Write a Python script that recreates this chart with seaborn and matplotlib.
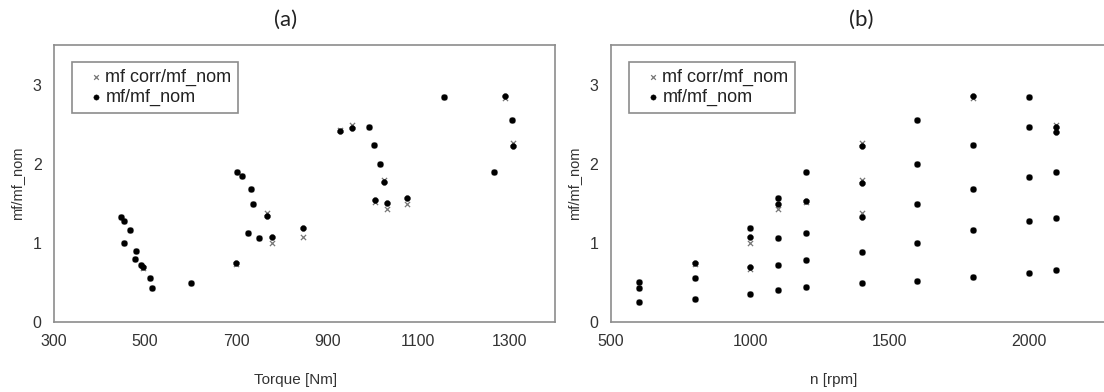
import matplotlib
matplotlib.use("Agg")
import matplotlib.pyplot as plt
import seaborn as sns
import pandas as pd

# ---- data: panel (a) ----
torque = [448, 454, 453, 467, 481, 478, 491, 496, 510, 516, 600, 699, 701, 712, 733, 738,
          727, 751, 768, 779, 847, 927, 954, 991, 1003, 1015, 1024, 1004, 1031, 1076,
          1157, 1266, 1290, 1306, 1307]
mf_a = [1.33, 1.28, 1.00, 1.16, 0.90, 0.79, 0.72, 0.69, 0.56, 0.43, 0.49, 0.75, 1.89, 1.84,
        1.68, 1.49, 1.12, 1.06, 1.34, 1.07, 1.19, 2.41, 2.45, 2.46, 2.24, 2.00, 1.77, 1.54,
        1.50, 1.57, 2.84, 1.89, 2.85, 2.55, 2.22]
corr_a = [1.33, 1.28, 1.00, 1.16, 0.90, 0.79, 0.72, 0.68, 0.56, 0.43, 0.49, 0.73, 1.89, 1.84,
          1.68, 1.49, 1.12, 1.06, 1.38, 1.00, 1.08, 2.43, 2.49, 2.46, 2.24, 2.00, 1.79, 1.51,
          1.43, 1.49, 2.84, 1.89, 2.83, 2.55, 2.26]

# ---- data: panel (b) ----
speed = [600, 600, 600, 800, 800, 800, 1000, 1000, 1000, 1000,
         1100, 1100, 1100, 1100, 1100, 1200, 1200, 1200, 1200, 1200,
         1400, 1400, 1400, 1400, 1400, 1600, 1600, 1600, 1600, 1600,
         1800, 1800, 1800, 1800, 1800, 2000, 2000, 2000, 2000, 2000,
         2100, 2100, 2100, 2100, 2100]
mf_b = [0.50, 0.43, 0.25, 0.75, 0.56, 0.29, 1.19, 1.08, 0.69, 0.35,
        1.57, 1.49, 1.06, 0.72, 0.40, 1.89, 1.53, 1.12, 0.78, 0.44,
        2.22, 1.76, 1.33, 0.89, 0.49, 2.55, 2.00, 1.49, 1.00, 0.52,
        2.85, 2.24, 1.68, 1.16, 0.57, 2.84, 2.46, 1.83, 1.28, 0.62,
        2.46, 2.40, 1.89, 1.32, 0.66]
corr_b = [0.50, 0.43, 0.25, 0.73, 0.56, 0.29, 1.19, 1.00, 0.67, 0.35,
          1.57, 1.43, 1.06, 0.72, 0.40, 1.89, 1.51, 1.12, 0.78, 0.44,
          2.26, 1.79, 1.38, 0.89, 0.49, 2.55, 2.00, 1.49, 1.00, 0.52,
          2.83, 2.24, 1.68, 1.16, 0.57, 2.84, 2.46, 1.83, 1.27, 0.62,
          2.49, 2.43, 1.89, 1.32, 0.66]

y_ticks = [0, 1, 2, 3]
xticks_a = [300, 500, 700, 900, 1100, 1300]
xticks_b = [500, 1000, 1500, 2000]
label_corr = "mf corr/mf_nom"
label_mf = "mf/mf_nom"

sns.set_style("white")
plt.rcParams['font.family'] = ['Liberation Sans', 'DejaVu Sans']

W, H = 1104, 392
fig = plt.figure(figsize=(W / 100, H / 100), dpi=100)

def px_axes(l, t, r, b):
    return fig.add_axes([l / W, 1 - b / H, (r - l) / W, (b - t) / H])

ax_a = px_axes(54, 45, 555, 322)
ax_b = px_axes(611, 45, 1112, 322)

spine_c = "#8c8c8c"

def style(ax, xlim, xticks):
    ax.set_xlim(*xlim)
    ax.set_ylim(0, 3.5)
    ax.set_xticks(xticks)
    ax.set_yticks(y_ticks)
    for s in ax.spines.values():
        s.set_color(spine_c)
        s.set_linewidth(1.2)
    ax.tick_params(direction="in", length=4, width=1, color=spine_c,
                   labelsize=11.5, labelcolor="#333333", pad=9)
    ax.set_xlabel("")
    ax.set_ylabel("mf/mf_nom", fontsize=10.5, color="#333333", labelpad=6)

def draw(ax, x, corr, mf):
    d1 = pd.DataFrame({"x": x, "y": corr})
    d2 = pd.DataFrame({"x": x, "y": mf})
    sns.scatterplot(data=d1, x="x", y="y", ax=ax, marker="x", s=14, color="#777777",
                    linewidth=0.9, label=label_corr, zorder=2)
    sns.scatterplot(data=d2, x="x", y="y", ax=ax, marker="o", s=18, color="black",
                    edgecolor="black", linewidth=0.3, label=label_mf, zorder=3)
    leg = ax.legend(loc="upper left", bbox_to_anchor=(18 / 501, 260 / 277), fontsize=13,
                    frameon=True, fancybox=False, framealpha=1, edgecolor="#8c8c8c",
                    borderaxespad=0, handletextpad=-0.5, handlelength=2.0, borderpad=0.35,
                    labelspacing=0.2, markerscale=0.9)
    leg.get_frame().set_linewidth(1.2)
    for t in leg.get_texts():
        t.set_color("#222222")

draw(ax_a, torque, corr_a, mf_a)
style(ax_a, (300, 1400), xticks_a)
draw(ax_b, speed, corr_b, mf_b)
style(ax_b, (500, 2300), xticks_b)

fig.text(286 / W, 1 - 20 / H, "(a)", ha="center", va="center", fontsize=16,
         family=["Lato", "DejaVu Sans"], color="#222222")
fig.text(861 / W, 1 - 20 / H, "(b)", ha="center", va="center", fontsize=16,
         family=["Lato", "DejaVu Sans"], color="#222222")
fig.text(296 / W, 1 - 380 / H, "Torque [Nm]", ha="center", va="center", fontsize=11,
         color="#333333")
fig.text(834 / W, 1 - 380 / H, "n [rpm]", ha="center", va="center", fontsize=11,
         color="#333333")

fig.savefig("out.png", dpi=100)
